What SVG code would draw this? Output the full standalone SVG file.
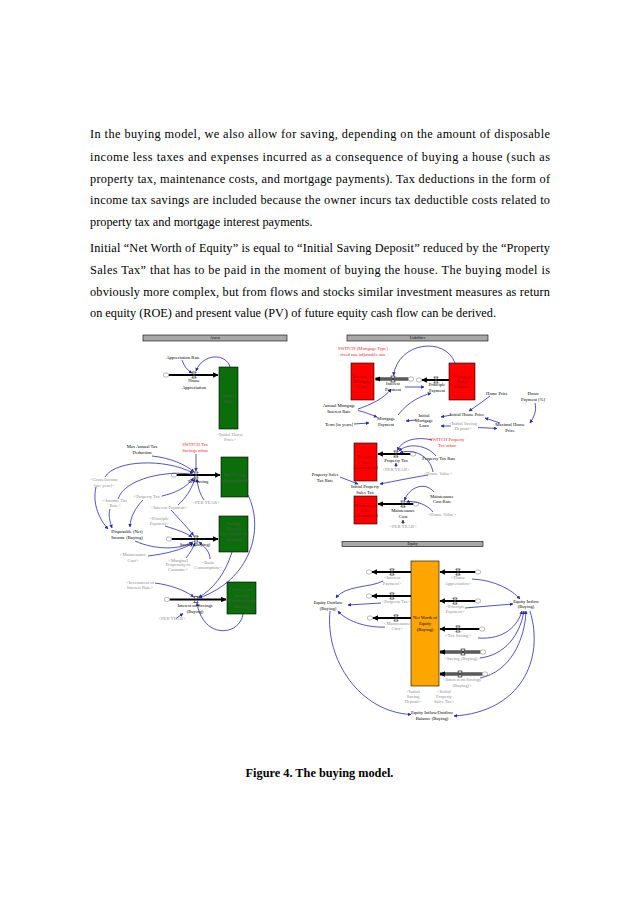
<svg xmlns="http://www.w3.org/2000/svg" width="638" height="903" viewBox="0 0 638 903">
<style>
.doc{font-family:"Liberation Serif","Times New Roman",serif;font-size:12.3px;fill:#000}
.cap{font-family:"Liberation Serif","Times New Roman",serif;font-size:12.3px;font-weight:bold;fill:#000;text-anchor:middle}
.t{font-family:"Liberation Serif","Times New Roman",serif;font-size:4.6px;text-anchor:middle;fill:#000}
.g{fill:#8e8e8e}
.r{fill:#e8262b}
.sg{fill:#505a50}
.sr{fill:#9a0000}
.hd{font-size:3.8px}
.bar{fill:#a8a8a8;stroke:#000;stroke-width:0.6}
.stg{fill:#0b6e0b;stroke:#000;stroke-width:0.6}
.str{fill:#ff0000;stroke:#000;stroke-width:0.6}
.sto{fill:#ffa500;stroke:#000;stroke-width:0.6}
.lk{fill:none;stroke:#2828a8;stroke-width:0.8;marker-end:url(#ab)}
.pipe{fill:none;stroke:#000;stroke-width:2;marker-end:url(#af)}
.dpo{fill:none;stroke:#000;stroke-width:2.8;marker-end:url(#af)}
.dpi{fill:none;stroke:#fff;stroke-width:0.7}
.cl{fill:#fff;stroke:#888;stroke-width:0.6}
</style>
<defs>
<marker id="ab" viewBox="0 0 10 10" refX="9" refY="5" markerUnits="userSpaceOnUse" markerWidth="3.6" markerHeight="3.6" orient="auto"><path d="M0,0 L10,5 L0,10 z" fill="#2828a8"/></marker>
<marker id="af" viewBox="0 0 10 10" refX="9" refY="5" markerUnits="userSpaceOnUse" markerWidth="5.5" markerHeight="5.5" orient="auto"><path d="M0,0 L10,5 L0,10 z" fill="#000"/></marker>
<symbol id="vv" viewBox="-3 -3.5 6 7" width="6" height="7" overflow="visible"><path d="M-2.2,-3 H2.2 L-2.2,3 H2.2 Z" fill="#fff" stroke="#000" stroke-width="0.6"/></symbol>
<symbol id="cd" viewBox="-3 -2.5 6 5" width="6" height="5" overflow="visible"><rect x="-2.6" y="-2" width="5.2" height="4" rx="1.8" class="cl"/></symbol>
</defs>
<rect x="0" y="0" width="638" height="903" fill="#fff"/>

<g id="body-text">
<text class="doc" x="90" y="137.5" textLength="460" lengthAdjust="spacing">In the buying model, we also allow for saving, depending on the amount of disposable</text>
<text class="doc" x="90" y="160.5" textLength="460" lengthAdjust="spacing">income less taxes and expenses incurred as a consequence of buying a house (such as</text>
<text class="doc" x="90" y="183" textLength="460" lengthAdjust="spacing">property tax, maintenance costs, and mortgage payments). Tax deductions in the form of</text>
<text class="doc" x="90" y="204" textLength="460" lengthAdjust="spacing">income tax savings are included because the owner incurs tax deductible costs related to</text>
<text class="doc" x="90" y="225.5">property tax and mortgage interest payments.</text>
<text class="doc" x="90" y="251.5" textLength="460" lengthAdjust="spacing">Initial “Net Worth of Equity” is equal to “Initial Saving Deposit” reduced by the “Property</text>
<text class="doc" x="90" y="274" textLength="460" lengthAdjust="spacing">Sales Tax” that has to be paid in the moment of buying the house. The buying model is</text>
<text class="doc" x="90" y="295.5" textLength="460" lengthAdjust="spacing">obviously more complex, but from flows and stocks similar investment measures as return</text>
<text class="doc" x="90" y="317">on equity (ROE) and present value (PV) of future equity cash flow can be derived.</text>
</g>

<g id="headers">
<rect class="bar" x="143" y="335" width="144" height="6"/><text class="t hd" x="215" y="339.4">Assets</text>
<rect class="bar" x="347" y="335" width="141" height="6"/><text class="t hd" x="417.5" y="339.4">Liabilities</text>
<rect class="bar" x="342" y="541.5" width="141" height="5"/><text class="t hd" x="412.5" y="545.4">Equity</text>
</g>

<g id="flows">
<path class="pipe" d="M168.5,375 H218"/>
<path class="pipe" d="M176.5,475 H220"/>
<path class="pipe" d="M171.5,539 H218"/>
<path class="pipe" d="M169.5,599.5 H226"/>
<path class="dpo" d="M408.5,379 H375.5"/><path class="dpi" d="M408.5,379 H380"/>
<path class="pipe" d="M449,380 H422"/>
<path class="pipe" d="M410.5,454 H378"/>
<path class="pipe" d="M413.5,504 H378"/>
<path class="pipe" d="M411,572 H372"/>
<path class="pipe" d="M411,596 H372"/>
<path class="pipe" d="M411,618 H373"/>
<path class="pipe" d="M475.5,572 H440"/>
<path class="pipe" d="M475.5,601 H440"/>
<path class="pipe" d="M479.5,629 H440"/>
<path class="dpo" d="M480.5,652 H440"/><path class="dpi" d="M480.5,652 H445"/>
<path class="dpo" d="M482.5,674 H440"/><path class="dpi" d="M482.5,674 H445"/>
<use href="#cd" x="163" y="372.5"/>
<use href="#cd" x="171" y="472.5"/>
<use href="#cd" x="166" y="536.5"/>
<use href="#cd" x="164" y="597"/>
<use href="#cd" x="408" y="376.5"/>
<use href="#cd" x="416" y="377.5"/>
<use href="#cd" x="410" y="451.5"/>
<use href="#cd" x="413" y="501.5"/>
<use href="#cd" x="366" y="569.5"/>
<use href="#cd" x="366" y="593.5"/>
<use href="#cd" x="367" y="615.5"/>
<use href="#cd" x="475" y="569.5"/>
<use href="#cd" x="475" y="598.5"/>
<use href="#cd" x="479" y="626.5"/>
<use href="#cd" x="480" y="649.5"/>
<use href="#cd" x="482" y="671.5"/>
<use href="#vv" x="191" y="371.5"/>
<use href="#vv" x="193" y="471.5"/>
<use href="#vv" x="193" y="535.5"/>
<use href="#vv" x="193" y="596"/>
<use href="#vv" x="390" y="375.5"/>
<use href="#vv" x="433" y="376.5"/>
<use href="#vv" x="393" y="450.5"/>
<use href="#vv" x="400" y="500.5"/>
<use href="#vv" x="389" y="568.5"/>
<use href="#vv" x="389" y="592.5"/>
<use href="#vv" x="393" y="614.5"/>
<use href="#vv" x="455" y="568.5"/>
<use href="#vv" x="452" y="597.5"/>
<use href="#vv" x="455" y="625.5"/>
<use href="#vv" x="460" y="648.5"/>
<use href="#vv" x="457" y="670.5"/>
</g>

<g id="connectors">
<path class="lk" d="M182,360 Q185,369 192,373"/>
<path class="lk" d="M230,367 C226,353 203,353 196,371"/>
<path class="lk" d="M152,456 C170,458 185,464 194,472"/>
<path class="lk" d="M196,454 L196,471"/>
<path class="lk" d="M105,477 C115,460 165,458 193,473"/>
<path class="lk" d="M118,499 C125,478 168,470 193,474.5"/>
<path class="lk" d="M162,496 C175,493 186,488 193.5,478"/>
<path class="lk" d="M178,505 C186,498 191,490 195,478.5"/>
<path class="lk" d="M204,500 C200,494 198,488 197,479"/>
<path class="lk" d="M96,487 C92,505 100,520 108,529"/>
<path class="lk" d="M110,509 C108,515 110,522 112,528"/>
<path class="lk" d="M143,500 C135,508 130,518 130,527"/>
<path class="lk" d="M171,510 C180,520 188,528 193.5,535.5"/>
<path class="lk" d="M165,526 C178,530 186,533 192,537"/>
<path class="lk" d="M135,541 C155,550 180,550 192.5,542"/>
<path class="lk" d="M148,556 C165,554 182,550 193,543"/>
<path class="lk" d="M186,558 C190,553 193,548 195,543"/>
<path class="lk" d="M210,559 C210,552 205,547 199,542"/>
<path class="lk" d="M155,583 C170,585 185,590 193.5,597"/>
<path class="lk" d="M176,618.5 L183,613.5"/>
<path class="lk" d="M243,614 C240,636 203,640 197,603"/>
<path class="lk" d="M248,495 C265,530 250,580 199,598"/>
<path class="lk" d="M232,552 C225,575 212,590 198.5,597.5"/>
<path class="lk" d="M455,363 C445,336 398,342 393.5,375.5"/>
<path class="lk" d="M358,409 C370,405 385,398 391,389"/>
<path class="lk" d="M405,387 L424,387"/>
<path class="lk" d="M398,415 C410,400 422,396 431,393"/>
<path class="lk" d="M358,410.5 C365,412 372,415 377,417"/>
<path class="lk" d="M354,424 L369,423"/>
<path class="lk" d="M416,420 L406,421"/>
<path class="lk" d="M451,415 L441,417"/>
<path class="lk" d="M451,426 L441,426"/>
<path class="lk" d="M490,396 C482,402 475,407 469,411"/>
<path class="lk" d="M535,403 C537,410 534,417 530,423"/>
<path class="lk" d="M500,423 L485,418"/>
<path class="lk" d="M478,427.5 L497,428.5"/>
<path class="lk" d="M432,440 C415,436 401,441 397.5,450.5"/>
<path class="lk" d="M436,456 C426,444 407,443 399,451"/>
<path class="lk" d="M433,472 C430,455 412,448 400,453"/>
<path class="lk" d="M396,467 L396,463"/>
<path class="lk" d="M428,475 C410,478 395,481 380,484"/>
<path class="lk" d="M340,477 L358,484"/>
<path class="lk" d="M434,492 C425,481 409,487 404.5,500.5"/>
<path class="lk" d="M433,512 C428,505 415,500 406.5,502"/>
<path class="lk" d="M403,524 L403,520"/>
<path class="lk" d="M383,581 C370,588 345,585 336,598"/>
<path class="lk" d="M381,603 L348,605"/>
<path class="lk" d="M385,627 C365,628 345,620 338,611"/>
<path class="lk" d="M330,611 C325,660 360,712 411,714.5"/>
<path class="lk" d="M472,579 C495,580 512,590 520,599"/>
<path class="lk" d="M465,608 L513,604"/>
<path class="lk" d="M478,638 C505,640 518,625 522,611"/>
<path class="lk" d="M480,658 C505,655 520,635 524,611"/>
<path class="lk" d="M480,678 C510,672 525,640 526,611"/>
<path class="lk" d="M530,611 C545,660 520,712 454,716"/>
</g>

<g id="n-house-value"><rect class="stg" x="219" y="367" width="19" height="62"/><text class="t sg" x="228.5" y="397">House</text><text class="t sg" x="228.5" y="402.5">Value</text></g>
<g id="n-house-appreciation"><text class="t" x="194" y="382">House</text><text class="t" x="194" y="388.5">Appreciation</text></g>
<g id="n-appreciation-rate"><text class="t" x="183" y="358.5">Appreciation Rate</text></g>
<g id="n-initial-house-price-a"><text class="t g" x="230" y="435.5">&lt;Initial House</text><text class="t g" x="230" y="441">Price&gt;</text></g>

<g id="n-max-deduction"><text class="t" x="142" y="447.5">Max Annual Tax</text><text class="t" x="142" y="454">Deduction</text></g>
<g id="n-switch-tax"><text class="t r" x="195" y="445.5">SWITCH Tax</text><text class="t r" x="195" y="452">Savings offon</text></g>
<g id="n-tax-saving"><text class="t" x="198" y="482.5">Tax Saving</text></g>
<g id="n-tax-savings-acc"><rect class="stg" x="221" y="457" width="27" height="40"/><text class="t sg" x="234.5" y="476">Tax Savings</text><text class="t sg" x="234.5" y="481.5">(Accumulated)</text></g>
<g id="n-gross-income"><text class="t g" x="104" y="481">&lt;Gross Income</text><text class="t g" x="104" y="486.5">[per year]&gt;</text></g>
<g id="n-income-tax-rate"><text class="t g" x="115" y="501.5">&lt;Income Tax</text><text class="t g" x="115" y="507">Rate&gt;</text></g>
<g id="n-property-tax-a"><text class="t g" x="148" y="498">&lt;Property Tax&gt;</text></g>
<g id="n-interest-payment-a"><text class="t g" x="169" y="508.5">&lt;Interest Payment&gt;</text></g>
<g id="n-per-year-a1"><text class="t g" x="206" y="503.5">&lt;PER YEAR&gt;</text></g>
<g id="n-principle-a"><text class="t g" x="159" y="519.5">&lt;Principle</text><text class="t g" x="159" y="525">Payment&gt;</text></g>
<g id="n-disposable"><text class="t" x="127" y="533">Disposable (Net)</text><text class="t" x="127" y="538.5">Income (Buying)</text></g>
<g id="n-saving"><text class="t" x="195" y="545.5">Saving (Buying)</text></g>
<g id="n-saving-deposit"><rect class="stg" x="219" y="516" width="29" height="36"/><text class="t sg" x="233.5" y="525">Saving</text><text class="t sg" x="233.5" y="530">Deposit</text><text class="t sg" x="233.5" y="535">(Accumulated)</text><text class="t sg" x="233.5" y="541">(Buying)</text></g>
<g id="n-maintenance-a"><text class="t g" x="133" y="555.5">&lt;Maintenance</text><text class="t g" x="133" y="561.5">Cost&gt;</text></g>
<g id="n-marginal"><text class="t g" x="178" y="561.5">&lt;Marginal</text><text class="t g" x="178" y="566">Propensity to</text><text class="t g" x="178" y="570.5">Consume&gt;</text></g>
<g id="n-basic"><text class="t g" x="208" y="563.5">&lt;Basic</text><text class="t g" x="208" y="569">Consumption&gt;</text></g>
<g id="n-investment-rate"><text class="t g" x="140" y="583.5">&lt;Investment of</text><text class="t g" x="140" y="589">Interest Rate&gt;</text></g>
<g id="n-interest-savings"><text class="t" x="195" y="606.5">Interest on Savings</text><text class="t" x="195" y="612.5">(Buying)</text></g>
<g id="n-interest-savings-acc"><rect class="stg" x="227" y="582" width="29" height="32"/><text class="t sg" x="241.5" y="590.5">Interest on</text><text class="t sg" x="241.5" y="596.5">Savings</text><text class="t sg" x="241.5" y="602">(Accumulated)</text><text class="t sg" x="241.5" y="608">(Buying)</text></g>
<g id="n-per-year-a2"><text class="t g" x="172" y="620">&lt;PER YEAR&gt;</text></g>

<g id="n-switch-mortgage"><text class="t r" x="363" y="349.5">SWITCH (Mortgage Type)</text><text class="t r" x="363" y="355.5">fixed rate/adjustable rate</text></g>
<g id="n-interest-mortgage"><rect class="str" x="351" y="363" width="23" height="37"/><text class="t sr" x="362.5" y="378">Interest on</text><text class="t sr" x="362.5" y="383">Mortgage</text><text class="t sr" x="362.5" y="388">Loan</text></g>
<g id="n-mortgage-balance"><rect class="str" x="449" y="363" width="26" height="37"/><text class="t sr" x="462" y="378">Mortgage</text><text class="t sr" x="462" y="383">Loan</text><text class="t sr" x="462" y="388">Balance</text></g>
<g id="n-interest-payment"><text class="t" x="393" y="385">Interest</text><text class="t" x="393" y="390.5">Payment</text></g>
<g id="n-principle-payment"><text class="t" x="437" y="386">Principle</text><text class="t" x="437" y="391.5">Payment</text></g>
<g id="n-annual-rate"><text class="t" x="339" y="406.5">Annual Mortgage</text><text class="t" x="339" y="412.5">Interest Rate</text></g>
<g id="n-term"><text class="t" x="339" y="425.5">Term [in years]</text></g>
<g id="n-mortgage-payment"><text class="t" x="386" y="419.5">Mortgage</text><text class="t" x="386" y="425.5">Payment</text></g>
<g id="n-initial-mortgage"><text class="t" x="424" y="416.5">Initial</text><text class="t" x="424" y="421.5">Mortgage</text><text class="t" x="424" y="426.5">Loan</text></g>
<g id="n-initial-house-price"><text class="t" x="467" y="415.5">Initial House Price</text></g>
<g id="n-initial-saving-l"><text class="t g" x="463" y="424.5">&lt;Initial Saving</text><text class="t g" x="463" y="430">Deposit&gt;</text></g>
<g id="n-home-price"><text class="t" x="497" y="394.5">Home Price</text></g>
<g id="n-down-payment"><text class="t" x="533" y="394.5">Down</text><text class="t" x="533" y="400.5">Payment [%]</text></g>
<g id="n-maximal-price"><text class="t" x="510" y="425.5">Maximal House</text><text class="t" x="510" y="431.5">Price</text></g>

<g id="n-switch-property"><text class="t r" x="447" y="440.5">SWITCH Property</text><text class="t r" x="447" y="446.5">Tax offon</text></g>
<g id="n-property-tax-acc"><rect class="str" x="354" y="443" width="23" height="38"/><text class="t sr" x="365.5" y="458">Property</text><text class="t sr" x="365.5" y="463.5">Tax</text><text class="t sr" x="365.5" y="469">Accumulated</text></g>
<g id="n-property-tax"><text class="t" x="396" y="461.5">Property Tax</text></g>
<g id="n-per-year-l1"><text class="t g" x="396" y="470.5">&lt;PER YEAR&gt;</text></g>
<g id="n-property-tax-rate"><text class="t" x="439" y="459.5">Property Tax Rate</text></g>
<g id="n-house-value-l1"><text class="t g" x="438" y="474.5">&lt;House Value&gt;</text></g>
<g id="n-property-sales-rate"><text class="t" x="325" y="475.5">Property Sales</text><text class="t" x="325" y="481.5">Tax Rate</text></g>
<g id="n-initial-property-tax"><text class="t" x="365" y="487.5">Initial Property</text><text class="t" x="365" y="493.5">Sales Tax</text></g>
<g id="n-maintenance-acc"><rect class="str" x="354" y="496" width="23" height="28"/><text class="t sr" x="365.5" y="507">Maintenance</text><text class="t sr" x="365.5" y="512">Cost</text><text class="t sr" x="365.5" y="517">Accumulated</text></g>
<g id="n-maintenance-cost"><text class="t" x="403" y="511.5">Maintenance</text><text class="t" x="403" y="518">Cost</text></g>
<g id="n-per-year-l2"><text class="t g" x="403" y="527.5">&lt;PER YEAR&gt;</text></g>
<g id="n-maintenance-rate"><text class="t" x="442" y="497.5">Maintenance</text><text class="t" x="442" y="503">Cost Rate</text></g>
<g id="n-house-value-l2"><text class="t g" x="442" y="515.5">&lt;House Value&gt;</text></g>

<g id="n-net-worth"><rect class="sto" x="411" y="561" width="28" height="125"/><text class="t" x="425" y="618.5">Net Worth of</text><text class="t" x="425" y="624.5">Equity</text><text class="t" x="425" y="630.5">(Buying)</text></g>
<g id="n-e-interest-payment"><text class="t g" x="392" y="579">&lt;Interest</text><text class="t g" x="392" y="584.5">Payment&gt;</text></g>
<g id="n-e-property-tax"><text class="t g" x="396" y="603">&lt;Property Tax&gt;</text></g>
<g id="n-e-maintenance"><text class="t g" x="397" y="624.5">&lt;Maintenance</text><text class="t g" x="397" y="630">Cost&gt;</text></g>
<g id="n-e-house-appreciation"><text class="t g" x="458" y="579">&lt;House</text><text class="t g" x="458" y="584.5">Appreciation&gt;</text></g>
<g id="n-e-principle"><text class="t g" x="455" y="607.5">&lt;Principle</text><text class="t g" x="455" y="613">Payment&gt;</text></g>
<g id="n-e-tax-saving"><text class="t g" x="458" y="636.5">&lt;Tax Saving&gt;</text></g>
<g id="n-e-saving"><text class="t g" x="462" y="659.5">&lt;Saving (Buying)&gt;</text></g>
<g id="n-e-interest-savings"><text class="t g" x="462" y="680.5">&lt;Interest on Savings</text><text class="t g" x="462" y="687">(Buying)&gt;</text></g>
<g id="n-e-initial-saving"><text class="t g" x="413" y="692.5">&lt;Initial</text><text class="t g" x="413" y="697.5">Saving</text><text class="t g" x="413" y="702.5">Deposit&gt;</text></g>
<g id="n-e-initial-property"><text class="t g" x="444" y="692.5">&lt;Initial</text><text class="t g" x="444" y="697.5">Property</text><text class="t g" x="444" y="702.5">Sales Tax&gt;</text></g>
<g id="n-equity-outflow"><text class="t" x="328" y="603.5">Equity Outflow</text><text class="t" x="328" y="609.5">(Buying)</text></g>
<g id="n-equity-inflow"><text class="t" x="526" y="602.5">Equity Inflow</text><text class="t" x="526" y="608">(Buying)</text></g>
<g id="n-balance"><text class="t" x="432" y="713.5">Equity Inflow/Outflow</text><text class="t" x="432" y="719.5">Balance (Buying)</text></g>

<g id="caption"><text class="cap" x="319.5" y="777">Figure 4. The buying model.</text></g>
</svg>
